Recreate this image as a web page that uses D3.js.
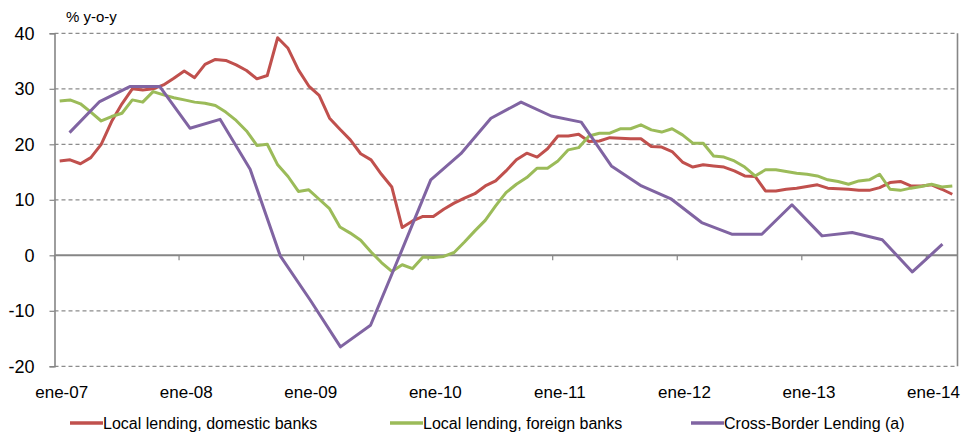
<!DOCTYPE html>
<html>
<head>
<meta charset="utf-8">
<script src="https://cdn.jsdelivr.net/npm/d3@7/dist/d3.min.js"></script>
<style>
  html, body { margin: 0; padding: 0; background: #fff; }
  svg { display: block; font-family: "Liberation Sans", Arial, sans-serif; }
</style>
</head>
<body>
<svg id="chart" width="964" height="432"></svg>
<script>
// Monthly categories, Jan 2007 - Mar 2014 (Spanish month abbreviations)
const monthNames = ["ene","feb","mar","abr","may","jun","jul","ago","sep","oct","nov","dic"];
const months = [];
for (let y = 2007; y <= 2014; y++) {
  for (let m = 0; m < 12; m++) {
    if (y === 2014 && m > 2) break;
    months.push(monthNames[m] + "-" + String(y).slice(2));
  }
}
const tickLabels = ["ene-07","ene-08","ene-09","ene-10","ene-11","ene-12","ene-13","ene-14"];

// Quarterly categories for the cross-border series
const quarters = [];
for (let y = 2007; y <= 2014; y++) {
  for (let q = 1; q <= 4; q++) {
    if (y === 2014 && q > 2) break;
    quarters.push(y + "Q" + q);
  }
}

const yTicks = [-20, -10, 0, 10, 20, 30, 40];

// Local lending, domestic banks (% y-o-y, monthly)
const domestic = [
  17.0, 17.2, 16.5, 17.6, 20.0, 24.1, 27.3, 30.0, 29.8, 30.0, 30.7, 31.9,
  33.2, 32.0, 34.4, 35.3, 35.1, 34.3, 33.3, 31.8, 32.4, 39.2, 37.3, 33.4,
  30.5, 28.8, 24.7, 22.7, 20.8, 18.3, 17.2, 14.6, 12.3, 5.0, 6.2, 7.0,
  7.0, 8.3, 9.4, 10.3, 11.1, 12.5, 13.4, 15.2, 17.2, 18.4, 17.7, 19.2,
  21.5, 21.5, 21.8, 20.5, 20.6, 21.2, 21.1, 21.0, 21.0, 19.6, 19.5, 18.7,
  16.8, 15.9, 16.3, 16.1, 15.9, 15.2, 14.3, 14.2, 11.6, 11.6, 11.9, 12.1,
  12.4, 12.7, 12.1, 12.0, 11.9, 11.7, 11.7, 12.2, 13.1, 13.3, 12.5, 12.5,
  12.7, 11.9, 11.0
];

// Local lending, foreign banks (% y-o-y, monthly)
const foreign = [
  27.8, 28.0, 27.3, 25.8, 24.2, 25.0, 25.6, 28.0, 27.6, 29.5, 28.9, 28.4,
  28.0, 27.6, 27.4, 27.0, 25.8, 24.3, 22.4, 19.8, 20.0, 16.3, 14.2, 11.5,
  11.8, 10.1, 8.4, 5.1, 4.0, 2.7, 0.6, -1.3, -2.9, -1.7, -2.4, -0.3,
  -0.4, -0.2, 0.5, 2.4, 4.4, 6.3, 8.9, 11.3, 12.8, 14.0, 15.7, 15.7,
  17.0, 19.0, 19.4, 21.5, 22.0, 22.0, 22.8, 22.8, 23.5, 22.6, 22.2, 22.8,
  21.7, 20.2, 20.2, 17.9, 17.7, 17.0, 15.9, 14.3, 15.4, 15.4, 15.1, 14.8,
  14.6, 14.3, 13.6, 13.3, 12.8, 13.4, 13.6, 14.6, 11.9, 11.7, 12.1, 12.4,
  12.8, 12.3, 12.5
];

// Cross-Border Lending (a) (% y-o-y, quarterly)
const crossBorder = [
  22.1, 27.7, 30.4, 30.4, 22.9, 24.5, 15.5, -0.1, -8.1, -16.5,
  -12.6, 0.4, 13.6, 18.3, 24.7, 27.6, 25.1, 24.0, 16.1, 12.5,
  10.1, 5.9, 3.8, 3.8, 9.1, 3.5, 4.1, 2.8, -3.0, 2.0
];

const seriesNames = ["Local lending, domestic banks", "Local lending, foreign banks", "Cross-Border Lending (a)"];
const seriesColors = ["#C0504D", "#9BBB59", "#8064A2"];

const svg = d3.select("#chart");
const plot = { left: 54.5, right: 957.5, top: 33.3, bottom: 366.3 };

const x = d3.scalePoint().domain(months).range([plot.left, plot.right]).padding(0.5);
const xq = d3.scalePoint().domain(quarters).range([plot.left, plot.right]).padding(0.5);
const y = d3.scaleLinear().domain([-20, 40]).range([plot.bottom, plot.top]);
const step = x.step();

// Horizontal dashed gridlines
svg.append("g")
  .selectAll("line")
  .data(yTicks.filter(t => t !== 0))
  .join("line")
  .attr("x1", plot.left).attr("x2", plot.right)
  .attr("y1", d => y(d)).attr("y2", d => y(d))
  .attr("stroke", "#8c8c8c")
  .attr("stroke-width", 1.2)
  .attr("stroke-dasharray", "4,3");

// Left value axis
const yAxis = svg.append("g")
  .attr("transform", `translate(${plot.left},0)`)
  .call(d3.axisLeft(y).tickValues(yTicks).tickSize(5).tickPadding(15).tickFormat(d => String(d)));
yAxis.select(".domain").attr("stroke", "#868686").attr("stroke-width", 1.6);
yAxis.selectAll(".tick line").attr("stroke", "#868686").attr("stroke-width", 1.2);
yAxis.selectAll(".tick text")
  .attr("fill", "#000")
  .style("font-size", "18px")
  .style("font-family", "'Liberation Sans', Arial, sans-serif");

// Right-hand axis line
svg.append("line")
  .attr("x1", plot.right).attr("x2", plot.right)
  .attr("y1", plot.top).attr("y2", plot.bottom)
  .attr("stroke", "#868686").attr("stroke-width", 1.6);

// Category axis at zero, tick marks every 12 months
const yearStarts = months.filter((m, i) => i % 12 === 0);
const xAxisG = svg.append("g");
xAxisG.append("line")
  .attr("x1", plot.left).attr("x2", plot.right)
  .attr("y1", y(0)).attr("y2", y(0))
  .attr("stroke", "#868686").attr("stroke-width", 2);
xAxisG.selectAll("line.tick")
  .data(yearStarts)
  .join("line")
  .attr("class", "tick")
  .attr("x1", d => x(d) - step / 2).attr("x2", d => x(d) - step / 2)
  .attr("y1", y(0)).attr("y2", y(0) + 5)
  .attr("stroke", "#868686").attr("stroke-width", 1.2);

// Month labels below the plot
svg.append("g")
  .selectAll("text")
  .data(tickLabels)
  .join("text")
  .attr("x", d => x(d) + 2)
  .attr("y", 398)
  .attr("text-anchor", "middle")
  .style("font-size", "17px")
  .attr("fill", "#000")
  .text(d => d);

// Unit label
svg.append("text")
  .attr("x", 66).attr("y", 22)
  .style("font-size", "15px")
  .attr("fill", "#000")
  .text("% y-o-y");

// Series lines
const monthLine = d3.line().x((d, i) => x(months[i])).y(d => y(d));
const quarterLine = d3.line().x((d, i) => xq(quarters[i])).y(d => y(d));

const lines = [
  { data: domestic, gen: monthLine, color: seriesColors[0] },
  { data: foreign, gen: monthLine, color: seriesColors[1] },
  { data: crossBorder, gen: quarterLine, color: seriesColors[2] }
];

svg.append("g")
  .selectAll("path")
  .data(lines)
  .join("path")
  .attr("d", d => d.gen(d.data))
  .attr("fill", "none")
  .attr("stroke", d => d.color)
  .attr("stroke-width", 3)
  .attr("stroke-linejoin", "round");

// Legend
const legendX = [70, 390, 691];
const legend = svg.append("g")
  .selectAll("g")
  .data(seriesNames)
  .join("g")
  .attr("transform", (d, i) => `translate(${legendX[i]},423)`);
legend.append("line")
  .attr("x1", 0).attr("x2", 33)
  .attr("y1", 0).attr("y2", 0)
  .attr("stroke", (d, i) => seriesColors[i])
  .attr("stroke-width", 3.5);
legend.append("text")
  .attr("x", 33).attr("y", 6)
  .style("font-size", "16px")
  .attr("fill", "#000")
  .text(d => d);
</script>
</body>
</html>
